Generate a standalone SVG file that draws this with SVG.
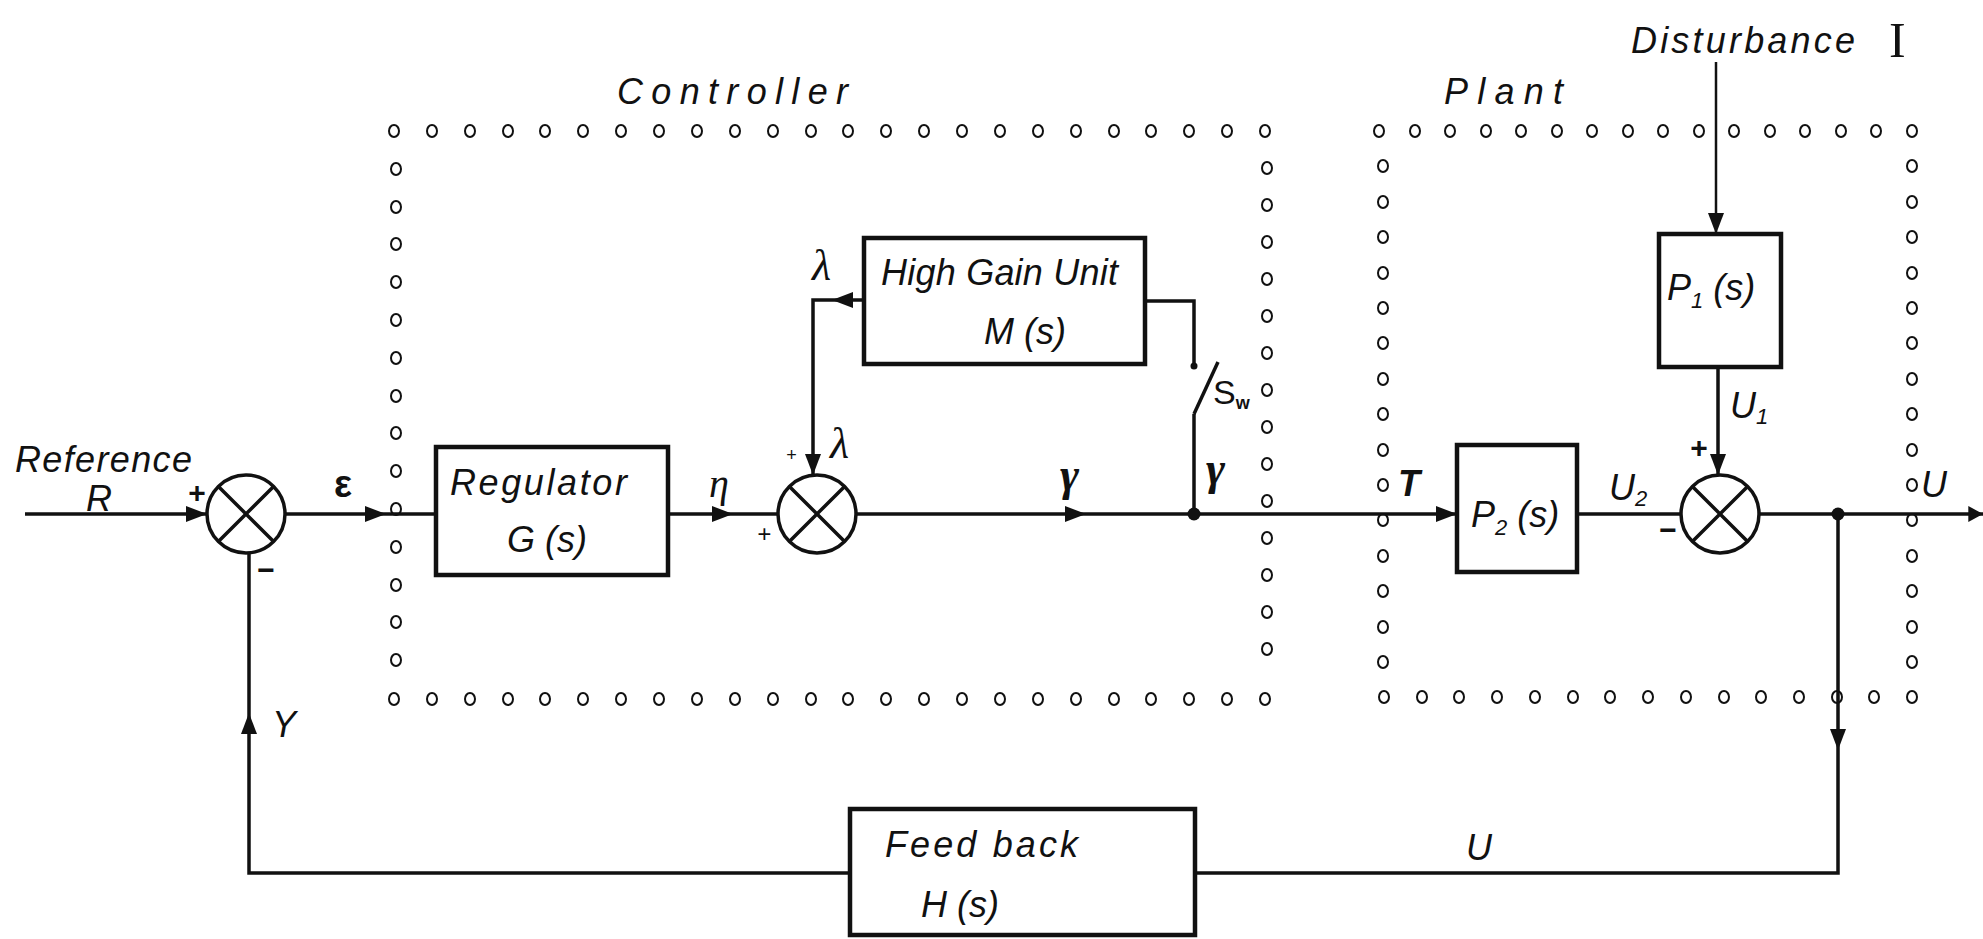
<svg xmlns="http://www.w3.org/2000/svg" xmlns:xlink="http://www.w3.org/1999/xlink" width="1983" height="939" viewBox="0 0 1983 939">
<style>
.ln{fill:none;stroke:#111;stroke-width:3.5;stroke-linejoin:miter}
.bx{fill:none;stroke:#111;stroke-width:4.5}
.dt{fill:none;stroke:#111;stroke-width:2}
.t{font-family:"Liberation Sans",Arial,sans-serif;font-style:italic;font-size:36px;fill:#111}
.g{font-family:"Liberation Serif","DejaVu Serif",serif;font-style:italic;font-size:44px;fill:#111}
.s{font-family:"Liberation Sans",Arial,sans-serif;font-size:30px;font-weight:bold;fill:#111}
.sub{font-size:22px}
.ttl{font-family:"Liberation Sans",Arial,sans-serif;font-style:italic;font-size:36px;fill:#111;letter-spacing:2px}
</style>
<defs>
<path id="ah" d="M0,0 L-21,-8 L-21,8 Z" fill="#111"/>
<g id="sum">
<circle cx="0" cy="0" r="39" fill="#fff" stroke="#111" stroke-width="3.5"/>
<path d="M-27.6,-27.6 L27.6,27.6 M27.6,-27.6 L-27.6,27.6" stroke="#111" stroke-width="3.5"/>
</g>
<ellipse id="d" cx="0" cy="0" rx="5" ry="6" class="dt"/>
</defs>
<rect width="1983" height="939" fill="#fff"/>

<g id="controller-border">
<text class="ttl" x="617" y="104" textLength="233">Controller</text>
<g>
<use href="#d" x="394" y="131"/><use href="#d" x="432" y="131"/><use href="#d" x="470" y="131"/><use href="#d" x="508" y="131"/><use href="#d" x="545" y="131"/><use href="#d" x="583" y="131"/><use href="#d" x="621" y="131"/><use href="#d" x="659" y="131"/><use href="#d" x="697" y="131"/><use href="#d" x="735" y="131"/><use href="#d" x="773" y="131"/><use href="#d" x="811" y="131"/><use href="#d" x="848" y="131"/><use href="#d" x="886" y="131"/><use href="#d" x="924" y="131"/><use href="#d" x="962" y="131"/><use href="#d" x="1000" y="131"/><use href="#d" x="1038" y="131"/><use href="#d" x="1076" y="131"/><use href="#d" x="1114" y="131"/><use href="#d" x="1151" y="131"/><use href="#d" x="1189" y="131"/><use href="#d" x="1227" y="131"/><use href="#d" x="1265" y="131"/>
<use href="#d" x="394" y="699"/><use href="#d" x="432" y="699"/><use href="#d" x="470" y="699"/><use href="#d" x="508" y="699"/><use href="#d" x="545" y="699"/><use href="#d" x="583" y="699"/><use href="#d" x="621" y="699"/><use href="#d" x="659" y="699"/><use href="#d" x="697" y="699"/><use href="#d" x="735" y="699"/><use href="#d" x="773" y="699"/><use href="#d" x="811" y="699"/><use href="#d" x="848" y="699"/><use href="#d" x="886" y="699"/><use href="#d" x="924" y="699"/><use href="#d" x="962" y="699"/><use href="#d" x="1000" y="699"/><use href="#d" x="1038" y="699"/><use href="#d" x="1076" y="699"/><use href="#d" x="1114" y="699"/><use href="#d" x="1151" y="699"/><use href="#d" x="1189" y="699"/><use href="#d" x="1227" y="699"/><use href="#d" x="1265" y="699"/>
<use href="#d" x="396" y="169"/><use href="#d" x="396" y="207"/><use href="#d" x="396" y="244"/><use href="#d" x="396" y="282"/><use href="#d" x="396" y="320"/><use href="#d" x="396" y="358"/><use href="#d" x="396" y="396"/><use href="#d" x="396" y="433"/><use href="#d" x="396" y="471"/><use href="#d" x="396" y="509"/><use href="#d" x="396" y="547"/><use href="#d" x="396" y="585"/><use href="#d" x="396" y="622"/><use href="#d" x="396" y="660"/>
<use href="#d" x="1267" y="168"/><use href="#d" x="1267" y="205"/><use href="#d" x="1267" y="242"/><use href="#d" x="1267" y="279"/><use href="#d" x="1267" y="316"/><use href="#d" x="1267" y="353"/><use href="#d" x="1267" y="390"/><use href="#d" x="1267" y="427"/><use href="#d" x="1267" y="464"/><use href="#d" x="1267" y="501"/><use href="#d" x="1267" y="538"/><use href="#d" x="1267" y="575"/><use href="#d" x="1267" y="612"/><use href="#d" x="1267" y="649"/>
</g>
</g>

<g id="plant-border">
<text class="ttl" x="1444" y="104" textLength="121">Plant</text>
<g>
<use href="#d" x="1379" y="131"/><use href="#d" x="1415" y="131"/><use href="#d" x="1450" y="131"/><use href="#d" x="1486" y="131"/><use href="#d" x="1521" y="131"/><use href="#d" x="1557" y="131"/><use href="#d" x="1592" y="131"/><use href="#d" x="1628" y="131"/><use href="#d" x="1663" y="131"/><use href="#d" x="1699" y="131"/><use href="#d" x="1734" y="131"/><use href="#d" x="1770" y="131"/><use href="#d" x="1805" y="131"/><use href="#d" x="1841" y="131"/><use href="#d" x="1876" y="131"/><use href="#d" x="1912" y="131"/>
<use href="#d" x="1384" y="697"/><use href="#d" x="1422" y="697"/><use href="#d" x="1459" y="697"/><use href="#d" x="1497" y="697"/><use href="#d" x="1535" y="697"/><use href="#d" x="1573" y="697"/><use href="#d" x="1610" y="697"/><use href="#d" x="1648" y="697"/><use href="#d" x="1686" y="697"/><use href="#d" x="1724" y="697"/><use href="#d" x="1761" y="697"/><use href="#d" x="1799" y="697"/><use href="#d" x="1837" y="697"/><use href="#d" x="1874" y="697"/><use href="#d" x="1912" y="697"/>
<use href="#d" x="1383" y="166"/><use href="#d" x="1383" y="202"/><use href="#d" x="1383" y="237"/><use href="#d" x="1383" y="273"/><use href="#d" x="1383" y="308"/><use href="#d" x="1383" y="343"/><use href="#d" x="1383" y="379"/><use href="#d" x="1383" y="414"/><use href="#d" x="1383" y="450"/><use href="#d" x="1383" y="485"/><use href="#d" x="1383" y="520"/><use href="#d" x="1383" y="556"/><use href="#d" x="1383" y="591"/><use href="#d" x="1383" y="627"/><use href="#d" x="1383" y="662"/>
<use href="#d" x="1912" y="166"/><use href="#d" x="1912" y="202"/><use href="#d" x="1912" y="237"/><use href="#d" x="1912" y="273"/><use href="#d" x="1912" y="308"/><use href="#d" x="1912" y="343"/><use href="#d" x="1912" y="379"/><use href="#d" x="1912" y="414"/><use href="#d" x="1912" y="450"/><use href="#d" x="1912" y="485"/><use href="#d" x="1912" y="520"/><use href="#d" x="1912" y="556"/><use href="#d" x="1912" y="591"/><use href="#d" x="1912" y="627"/><use href="#d" x="1912" y="662"/>
</g>
</g>

<g id="connectors">
<path class="ln" d="M25,514 H207"/>
<path class="ln" d="M285,514 H436"/>
<path class="ln" d="M668,514 H778"/>
<path class="ln" d="M856,514 H1457"/>
<path class="ln" d="M1577,514 H1681"/>
<path class="ln" d="M1759,514 H1983"/>
<path class="ln" d="M864,300 H813 V475"/>
<path class="ln" d="M1145,301 H1194 V366"/>
<circle cx="1194" cy="366" r="3.5" fill="#111"/>
<path class="ln" d="M1194,414 L1218,362"/>
<path class="ln" d="M1194,414 V514"/>
<circle cx="1194" cy="514" r="6.5" fill="#111"/>
<path class="ln" d="M1716,62 V234" style="stroke-width:2.5"/>
<path class="ln" d="M1718,367 V475"/>
<circle cx="1838" cy="514" r="6.5" fill="#111"/>
<path class="ln" d="M1838,514 V873 H1195"/>
<path class="ln" d="M850,873 H249 V553"/>
<use href="#ah" transform="translate(207,514)"/>
<use href="#ah" transform="translate(386,514)"/>
<use href="#ah" transform="translate(733,514)"/>
<use href="#ah" transform="translate(832,300) rotate(180)"/>
<use href="#ah" transform="translate(813,475) rotate(90)"/>
<use href="#ah" transform="translate(1086,514)"/>
<use href="#ah" transform="translate(1457,514)"/>
<use href="#ah" transform="translate(1716,234) rotate(90)"/>
<use href="#ah" transform="translate(1718,475) rotate(90)"/>
<use href="#ah" transform="translate(1983,514) scale(0.7,1)"/>
<use href="#ah" transform="translate(1838,750) rotate(90)"/>
<use href="#ah" transform="translate(249,713) rotate(-90)"/>
</g>

<g id="labels">
<text class="t" x="15" y="472" textLength="177">Reference</text>
<text class="t" x="86" y="511">R</text>
<text class="s" x="197" y="503" text-anchor="middle">+</text>
<text class="s" x="266" y="580" text-anchor="middle">−</text>
<text class="t" x="334" y="497" style="font-style:normal;font-size:38px;font-weight:bold">ε</text>
<text class="g" x="709" y="497" style="font-size:40px">η</text>
<text class="t" x="272" y="737">Y</text>
<text class="g" x="1060" y="490" style="font-weight:bold;font-size:46px">γ</text>
<text class="g" x="1206" y="484" style="font-weight:bold;font-size:46px">γ</text>
<text class="t" x="1213" y="404" style="font-style:normal;font-size:34px">S<tspan class="sub" dy="5" style="font-size:18px;font-weight:bold">w</tspan></text>
<text class="t" x="1398" y="496" style="font-weight:bold">T</text>
<text class="t" x="1609" y="500">U<tspan class="sub" dy="6">2</tspan></text>
<text class="t" x="1730" y="418">U<tspan class="sub" dy="6">1</tspan></text>
<text class="s" x="1699" y="458" text-anchor="middle">+</text>
<text class="s" x="1668" y="540" text-anchor="middle">−</text>
<text class="t" x="1921" y="497">U</text>
<text class="t" x="1466" y="860">U</text>
<text class="t" x="1631" y="53" textLength="224">Disturbance</text>
<text x="1889" y="57" style="font-family:'Liberation Serif',serif;font-size:50px;fill:#111">I</text>
</g>

<g id="sum1"><use href="#sum" x="246" y="514"/></g>

<g id="regulator">
<rect class="bx" x="436" y="447" width="232" height="128"/>
<text class="t" x="450" y="495" textLength="177">Regulator</text>
<text class="t" x="507" y="552">G (s)</text>
</g>

<g id="sum2">
<use href="#sum" x="817" y="514"/>
<text class="t" x="757" y="542" style="font-size:24px">+</text>
<text class="t" x="786" y="461" style="font-size:18px">+</text>
<text class="g" x="830" y="458">λ</text>
</g>

<g id="high-gain">
<rect class="bx" x="864" y="238" width="281" height="126"/>
<text class="t" x="881" y="285" textLength="237">High Gain Unit</text>
<text class="t" x="984" y="344">M (s)</text>
<text class="g" x="812" y="280">λ</text>
</g>

<g id="p1">
<rect class="bx" x="1659" y="234" width="122" height="133"/>
<text class="t" x="1667" y="300">P<tspan class="sub" dy="8">1</tspan><tspan dy="-8"> (s)</tspan></text>
</g>

<g id="p2">
<rect class="bx" x="1457" y="445" width="120" height="127"/>
<text class="t" x="1471" y="527">P<tspan class="sub" dy="8">2</tspan><tspan dy="-8"> (s)</tspan></text>
</g>

<g id="sum3"><use href="#sum" x="1720" y="514"/></g>

<g id="feedback">
<rect class="bx" x="850" y="809" width="345" height="126"/>
<text class="t" x="885" y="857" textLength="193">Feed back</text>
<text class="t" x="921" y="917">H (s)</text>
</g>
</svg>
